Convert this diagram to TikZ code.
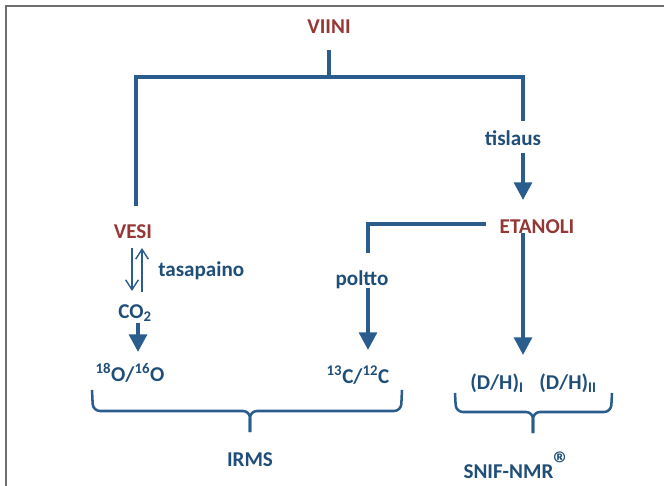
\documentclass[tikz,border=0pt]{standalone}
\usepackage{fontspec}
\setmainfont{Carlito}
\usepackage{tikz}
\usetikzlibrary{
    arrows.meta, positioning, calc
}
\definecolor{cRed}{HTML}{953735}
\definecolor{cBlue}{HTML}{1F4E79}
\definecolor{cLine}{HTML}{2A5D8E}
\definecolor{cFrame}{HTML}{6E6E6E}

\begin{document}
\begin{tikzpicture}[x=0.025cm, y=-0.025cm,
        font=\bfseries\fontsize{15}{18}\selectfont,
        lbl/.style={text=cBlue, inner sep=0pt},
        comp/.style={text=cRed, inner sep=0pt},
        branch/.style={cLine, line width=2.8pt},
        fatarrow/.style={cLine, line width=2.8pt, -{Triangle[width=12.5pt, length=12.5pt]}},
        eqarrow/.style={cLine, line width=1pt, -{Straight Barb[length=7pt, width=9pt]}},
        curly/.style={cLine, line width=1.8pt, rounded corners=5pt}]
        \useasboundingbox (0,0) rectangle (664,486);
        \draw[cFrame, line width=1.3pt] (6,486) -- (6,6) -- (664,6);

        % aineet
        \node[comp] (viini) at (329,27) {VIINI};
        \node[comp] (vesi) at (133,232) {VESI};
        \node[comp] (etanoli) at (537,227) {ETANOLI};
        \node[lbl] (tislaus) at (513,138) {tislaus};
        \node[lbl, anchor=west] (tasapaino) at (158,271) {tasapaino};
        \node[lbl] (co2) at (135,313) {CO\textsubscript{2}};
        \node[lbl] (poltto) at (362,280) {poltto};

        % suhteet
        \node[lbl] (oxy) at (130,373) {\textsuperscript{18}O/\textsuperscript{16}O};
        \node[lbl] (carb) at (358,375) {\textsuperscript{13}C/\textsuperscript{12}C};
        \node[lbl] (dh1) at (497,383) {(D/H)\textsubscript{I}};
        \node[lbl] (dh2) at (568,383) {(D/H)\textsubscript{II}};

        % menetelmat
        \node[lbl] (irms) at (250,460) {IRMS};
        \node[lbl] (snif) at (517,465) {SNIF-NMR\raisebox{2pt}{\fontsize{24}{24}\selectfont ®}};

        \coordinate (split) at (329,77);
        \draw[branch] ($(viini)+(0,23)$) -- (split);
        \draw[branch] ($(vesi)+(3,-26)$) |- (split) -| ($(tislaus)+(10,-17)$);
        \draw[fatarrow] ($(tislaus)+(10,15)$) -- ($(etanoli)+(-14,-27)$);

        \draw[eqarrow] ($(vesi)+(-1,16)$) -- ($(co2)+(-3,-22)$);
        \draw[eqarrow] ($(co2)+(7,-21)$) -- ($(vesi)+(9,16)$);
        \draw[fatarrow] ($(co2)+(3,10)$) -- ($(oxy)+(8,-21)$);

        \draw[branch] ($(etanoli)+(-51,-3)$) -| ($(poltto)+(6,-27)$);
        \draw[fatarrow] ($(poltto)+(6,8)$) -- ($(carb)+(10,-25)$);
        \draw[fatarrow] ($(etanoli)+(-14,6)$) -- ($(etanoli)+(-14,128)$);

        % sulkeet
        \draw[curly] (92,390) -- (93,411) -- (irms.north |- 0,411) -- (irms.north |- 0,432);
        \draw[curly] (402,390) -- (401,411) -- (irms.north |- 0,411) -- (irms.north |- 0,432);
        \draw[curly] (455,393) -- (456,412) -- (533,412) -- (533,433);
        \draw[curly] (612,393) -- (611,412) -- (533,412) -- (533,433);
    \end{tikzpicture}
\end{document}
